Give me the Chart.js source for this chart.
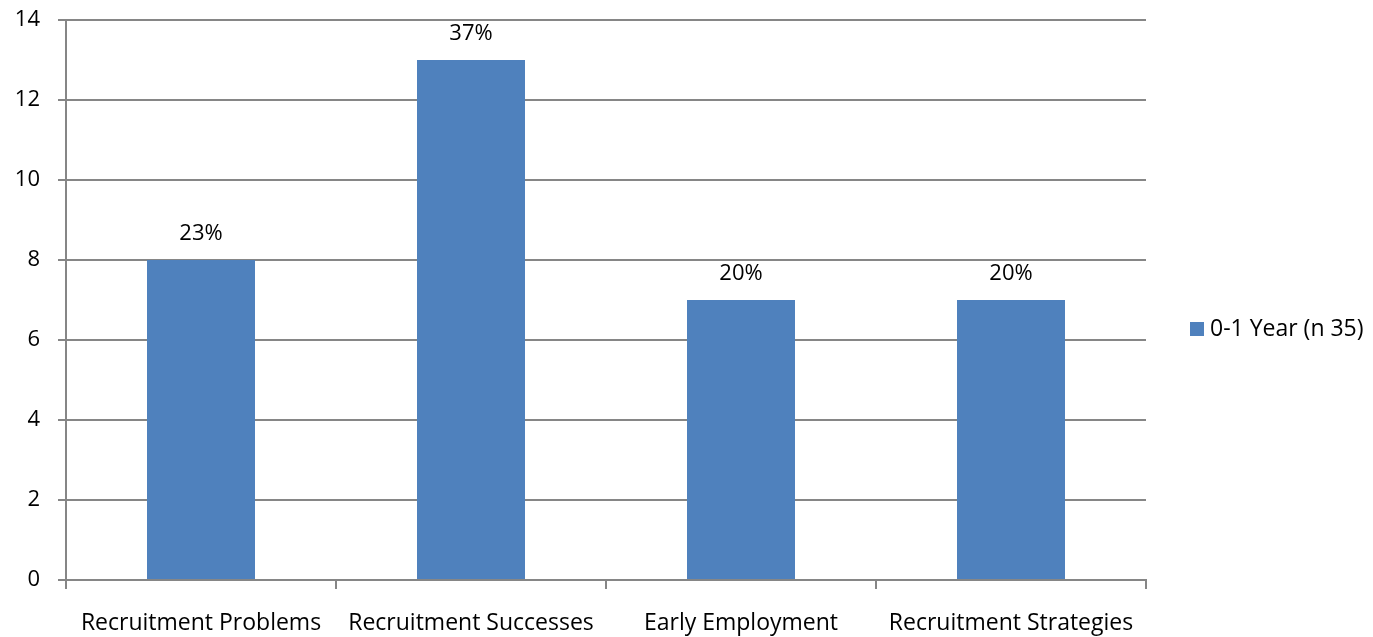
<!DOCTYPE html>
<html>
<head>
<meta charset="utf-8">
<script src="https://cdn.jsdelivr.net/npm/chart.js@4"></script>
<style>
  html, body { margin: 0; padding: 0; background: #ffffff; }
  #wrap { width: 1373px; height: 637px; position: relative; }
</style>
</head>
<body>
<div id="wrap"><canvas id="c" width="1373" height="637"></canvas></div>
<script>
// Categories, counts and their percentage labels
const categories = ["Recruitment Problems", "Recruitment Successes", "Early Employment", "Recruitment Strategies"];
const counts = [8, 13, 7, 7];
const percentLabels = ["23%", "37%", "20%", "20%"];
const seriesName = "0-1 Year (n 35)";
const yTicks = [0, 2, 4, 6, 8, 10, 12, 14];

const FONT = "'Open Sans', Lato, 'Liberation Sans', sans-serif";
const FONT_SIZE = 22;
const CAT_FONT_SIZE = 23;
const AXIS_GREY = "#868686";
const BAR_BLUE = "#4f81bd";

// Percentage text above each bar
const valueLabels = {
  id: "valueLabels",
  afterDatasetsDraw(chart) {
    const ctx = chart.ctx;
    const meta = chart.getDatasetMeta(0);
    ctx.save();
    ctx.font = FONT_SIZE + "px " + FONT;
    ctx.fillStyle = "#000";
    ctx.textAlign = "center";
    ctx.textBaseline = "middle";
    meta.data.forEach((bar, i) => {
      ctx.fillText(percentLabels[i], bar.x, bar.y - 26);
    });
    ctx.restore();
  }
};

// Legend entry at the right of the plot
const sideLegend = {
  id: "sideLegend",
  afterDraw(chart) {
    const ctx = chart.ctx;
    const area = chart.chartArea;
    const x = area.right + 44;
    const y = 329;
    ctx.save();
    ctx.fillStyle = BAR_BLUE;
    ctx.fillRect(x, y - 7, 14, 14);
    ctx.font = CAT_FONT_SIZE + "px " + FONT;
    ctx.fillStyle = "#000";
    ctx.textAlign = "left";
    ctx.textBaseline = "middle";
    ctx.fillText(chart.data.datasets[0].label, x + 20, y);
    ctx.restore();
  }
};

new Chart(document.getElementById("c"), {
  type: "bar",
  data: {
    labels: categories,
    datasets: [{
      label: seriesName,
      data: counts,
      backgroundColor: BAR_BLUE,
      borderWidth: 0,
      categoryPercentage: 0.4,
      barPercentage: 1.0
    }]
  },
  options: {
    responsive: false,
    animation: false,
    devicePixelRatio: 1,
    layout: { padding: { top: 20, right: 227, left: 0, bottom: 0 } },
    plugins: {
      legend: { display: false },
      tooltip: { enabled: false }
    },
    scales: {
      x: {
        offset: true,
        grid: {
          offset: true,
          drawOnChartArea: false,
          drawTicks: true,
          tickLength: 9,
          color: AXIS_GREY,
          lineWidth: 2
        },
        border: { color: AXIS_GREY, width: 2 },
        ticks: {
          color: "#000",
          font: { family: FONT, size: CAT_FONT_SIZE },
          padding: 21,
          maxRotation: 0,
          autoSkip: false
        },
        afterFit(scale) {
          scale.height = 57;
          scale.paddingLeft = 0;
          scale.paddingRight = 0;
        }
      },
      y: {
        min: yTicks[0],
        max: yTicks[yTicks.length - 1],
        afterBuildTicks(scale) { scale.ticks = yTicks.map(v => ({ value: v })); },
        grid: {
          color: AXIS_GREY,
          lineWidth: 2,
          drawTicks: true,
          tickLength: 8
        },
        border: { color: AXIS_GREY, width: 2 },
        ticks: {
          color: "#000",
          font: { family: FONT, size: FONT_SIZE },
          padding: 18
        },
        afterFit(scale) {
          scale.width = 66;
          scale.paddingTop = 0;
          scale.paddingBottom = 0;
        }
      }
    }
  },
  plugins: [valueLabels, sideLegend]
});
</script>
</body>
</html>
